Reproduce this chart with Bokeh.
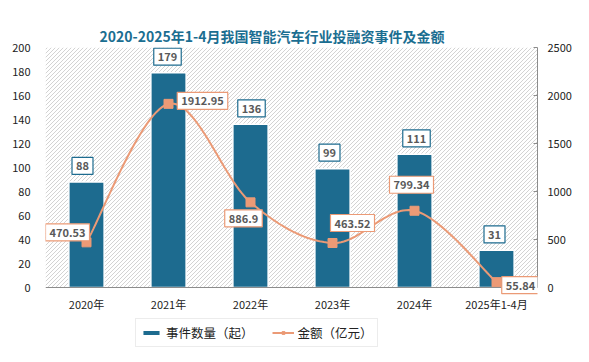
from bokeh.plotting import figure
from bokeh.models import (Range1d, LinearAxis, Label, Legend, LegendItem,
                          FixedTicker, ColumnDataSource)
from bokeh.embed import file_html
from bokeh.resources import INLINE
import numpy as np

categories = ["2020年", "2021年", "2022年", "2023年", "2024年", "2025年1-4月"]
events = [88, 179, 136, 99, 111, 31]
amounts = [470.53, 1912.95, 886.9, 463.52, 799.34, 55.84]
amount_labels = ["470.53", "1912.95", "886.9", "463.52", "799.34", "55.84"]

# label placement offsets (screen px) for amount labels
amt_dx = [-19, 34, -7, 20, -3, 24]
amt_dy = [10, 3, -16, 20, 26, -3]
bar_dx = [-4, -1, 1, -3, 2, -2]

BAR = "#1d6b8f"
LINE = "#eb9a76"
TXT = "#595959"
FONT = "Noto Sans CJK SC"

W, H = 580, 355
BL, BR, BT, BB = 45, 43, 47, 5
xs = np.arange(len(categories), dtype=float)
ymax, amax = 200, 2500
scale = amax / ymax
amt_scaled = np.array(amounts) / scale
ymin = -52.5  # room below the baseline for axis labels and legend

p = figure(width=W, height=H, output_backend="svg", toolbar_location=None,
           x_range=Range1d(-0.5, len(categories) - 0.5), y_range=Range1d(ymin, ymax),
           min_border_left=BL, min_border_right=BR, min_border_bottom=BB, min_border_top=BT)
p.extra_y_ranges = {"amt": Range1d(ymin * scale, amax)}

p.title.text = "2020-2025年1-4月我国智能汽车行业投融资事件及金额"
p.title.align = "left"
p.title.offset = 54
p.title.text_font = FONT
p.title.text_font_size = "14px"
p.title.text_font_style = "bold"
p.title.text_color = "#1b6e91"
p.title.standoff = 4

p.xgrid.visible = False
p.ygrid.visible = False
p.outline_line_color = None
p.background_fill_color = "white"

# hatched plot background (decorative diagonal lines, 4px apart)
fw = W - BL - BR
fh = H - BT - BB
pxx = fw / len(categories)          # px per x unit
pxy = fh / (ymax - ymin)            # px per y unit
hh = ymax * pxy                     # hatch area height, px
hx, hy = [], []
for c in np.arange(2, fw + hh, 4.0):
    u0, u1 = max(0.0, c - hh), min(fw, c)
    v0 = hh - (c - u0)
    v1 = hh - (c - u1)
    hx.append([-0.5 + u0 / pxx, -0.5 + u1 / pxx])
    hy.append([v0 / pxy, v1 / pxy])
p.multi_line(hx, hy, line_color="#c8c8c8", line_width=1, line_alpha=0.8)

# bars
src = ColumnDataSource(dict(x=xs, top=events))
bars = p.vbar(x="x", top="top", width=0.43, bottom=0, source=src,
              fill_color=BAR, line_color="white", line_width=1.5)

# smooth line (Bezier through the data points)
pts = list(zip(xs, amt_scaled))
cx, cy = [], []
n = len(pts)
for i in range(n - 1):
    p0 = pts[max(i - 1, 0)]
    p1 = pts[i]
    p2 = pts[i + 1]
    p3 = pts[min(i + 2, n - 1)]
    c1 = (p1[0] + (p2[0] - p0[0]) / 6, p1[1] + (p2[1] - p0[1]) / 6)
    c2 = (p2[0] - (p3[0] - p1[0]) / 6, p2[1] - (p3[1] - p1[1]) / 6)
    for t in np.linspace(0, 1, 30):
        a = (1 - t) ** 3; b = 3 * (1 - t) ** 2 * t; c = 3 * (1 - t) * t ** 2; d = t ** 3
        cx.append(a * p1[0] + b * c1[0] + c * c2[0] + d * p2[0])
        cy.append(a * p1[1] + b * c1[1] + c * c2[1] + d * p2[1])
line = p.line(cx, cy, line_color=LINE, line_width=2)
marks = p.scatter(xs, amt_scaled, marker="square", size=9, fill_color=LINE, line_color=LINE)

# axes
p.xaxis.fixed_location = 0
p.xaxis.ticker = FixedTicker(ticks=list(xs))
p.xaxis.major_label_overrides = {i: c for i, c in enumerate(categories)}
p.xaxis.axis_line_color = "#8c8c8c"
p.xaxis.major_tick_line_color = None
p.xaxis.minor_tick_line_color = None
p.xaxis.major_label_text_font = FONT
p.xaxis.major_label_text_font_size = "11px"
p.xaxis.major_label_text_color = "#222222"
p.xaxis.major_label_standoff = 2

p.yaxis.ticker = FixedTicker(ticks=list(range(0, ymax + 1, 20)))
p.yaxis.axis_line_color = None
p.yaxis.major_tick_line_color = None
p.yaxis.minor_tick_line_color = None
p.yaxis.major_label_text_font = FONT
p.yaxis.major_label_text_font_size = "11px"
p.yaxis.major_label_text_color = "#222222"
p.yaxis.major_label_standoff = 9

ax2 = LinearAxis(y_range_name="amt", ticker=FixedTicker(ticks=list(range(0, amax + 1, 500))),
                 bounds=(0, amax))
ax2.axis_line_color = "#8c8c8c"
ax2.major_tick_line_color = "#8c8c8c"
ax2.major_tick_in = 4
ax2.major_tick_out = 0
ax2.minor_tick_line_color = None
ax2.major_label_text_font = FONT
ax2.major_label_text_font_size = "11px"
ax2.major_label_text_color = "#222222"
ax2.major_label_standoff = 10
p.add_layout(ax2, "right")

# data labels
for i, v in enumerate(events):
    p.add_layout(Label(x=xs[i], y=v, text=str(v), x_offset=bar_dx[i], y_offset=16,
                       text_align="center", text_baseline="middle",
                       text_font=FONT, text_font_size="11px", text_font_style="bold",
                       text_color=TXT, background_fill_color="white",
                       border_line_color=BAR, border_line_width=1.2, padding=4))
for i, v in enumerate(amt_scaled):
    p.add_layout(Label(x=xs[i], y=v, text=amount_labels[i], x_offset=amt_dx[i], y_offset=amt_dy[i],
                       text_align="center", text_baseline="middle",
                       text_font=FONT, text_font_size="11px", text_font_style="bold",
                       text_color=TXT, background_fill_color="white",
                       border_line_color=LINE, border_line_width=1.2, padding=4))

legend = Legend(items=[LegendItem(label="事件数量（起）", renderers=[bars]),
                       LegendItem(label="金额（亿元）", renderers=[line, marks])],
                orientation="horizontal", location=(90, 3),
                label_text_font=FONT, label_text_font_size="12.5px", label_text_color="#222222",
                border_line_color="#d9d9d9", background_fill_color="white",
                glyph_width=22, glyph_height=7, spacing=18, padding=4, margin=0,
                label_standoff=4)
p.add_layout(legend, "center")

open("out.html", "w").write(file_html(p, INLINE))
